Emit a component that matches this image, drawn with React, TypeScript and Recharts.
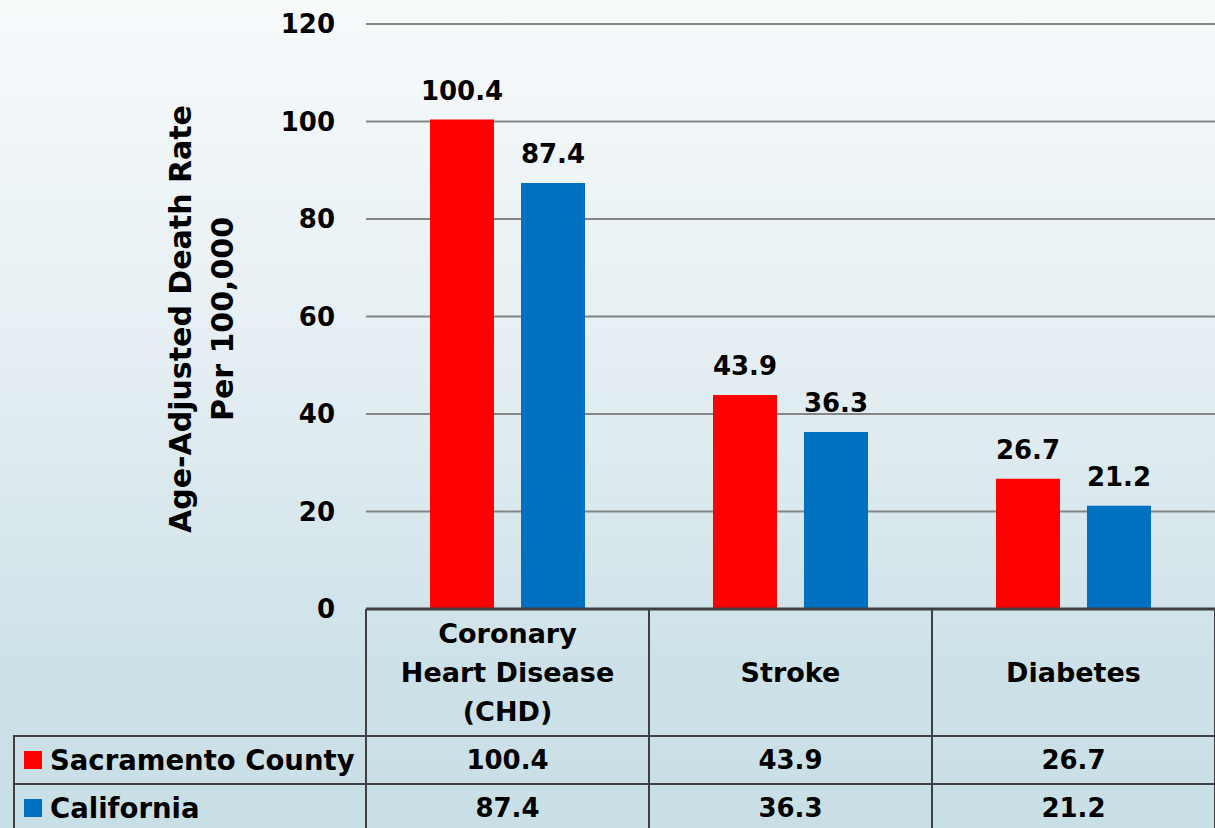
import React from "react";
import { BarChart, Bar, CartesianGrid, LabelList, ReferenceLine, XAxis, YAxis } from "recharts";

const categories = ["Coronary\nHeart Disease\n(CHD)", "Stroke", "Diabetes"];
const sacramento = [100.4, 43.9, 26.7];
const california = [87.4, 36.3, 21.2];
const seriesNames = ["Sacramento County", "California"];
const yTicks = [0, 20, 40, 60, 80, 100, 120];

const W = 1215;
const H = 828;
const PLOT_LEFT = 366;
const PLOT_TOP = 24;
const PLOT_BOTTOM = 609;
const RED = "#ff0000";
const BLUE = "#0070c0";
const LINE = "#404040";
const FONT = "'DejaVu Sans', sans-serif";

const chartData = categories.map((c, i) => ({
  category: c,
  sacramento: sacramento[i],
  california: california[i],
}));

function AxisTitle() {
  const cy = 319;
  return (
    <g fontFamily={FONT} fontWeight="bold" fontSize={30} fill="#000">
      <text x={180} y={cy} transform={`rotate(-90, 180, ${cy})`} textAnchor="middle" dominantBaseline="central">
        Age-Adjusted Death Rate
      </text>
      <text x={222} y={cy} transform={`rotate(-90, 222, ${cy})`} textAnchor="middle" dominantBaseline="central">
        Per 100,000
      </text>
    </g>
  );
}

export default function App() {
  const bandW = (W - PLOT_LEFT) / categories.length;
  const headerBottom = 736;
  const rowH = 48;
  const rows = [
    { name: seriesNames[0], color: RED, values: sacramento },
    { name: seriesNames[1], color: BLUE, values: california },
  ];

  return (
    <div
      style={{
        position: "absolute",
        top: 0,
        left: 0,
        width: W,
        height: H,
        overflow: "hidden",
        background: "linear-gradient(to bottom, #f7fafb 0%, #e4eef2 45%, #cde2e8 80%, #c8dfe5 100%)",
        fontFamily: FONT,
      }}
    >
      <BarChart
        width={W}
        height={H}
        data={chartData}
        margin={{ top: PLOT_TOP, right: 0, left: 0, bottom: H - PLOT_BOTTOM }}
        barSize={64}
        barGap={27}
      >
        <CartesianGrid vertical={false} stroke="#858585" strokeWidth={2} />
        <XAxis dataKey="category" hide height={0} />
        <YAxis
          width={PLOT_LEFT}
          domain={[0, 120]}
          ticks={yTicks}
          axisLine={false}
          tickLine={false}
          tickMargin={25}
          tick={{ fill: "#000", fontSize: 26, fontWeight: "bold", fontFamily: FONT }}
          label={{ content: () => <AxisTitle /> }}
        />
        <ReferenceLine y={0} stroke={LINE} strokeWidth={3} />
        <Bar dataKey="sacramento" name={seriesNames[0]} fill={RED} isAnimationActive={false}>
          <LabelList
            dataKey="sacramento"
            position="top"
            offset={20}
            fill="#000"
            fontSize={26}
            fontWeight="bold"
            fontFamily={FONT}
          />
        </Bar>
        <Bar dataKey="california" name={seriesNames[1]} fill={BLUE} isAnimationActive={false}>
          <LabelList
            dataKey="california"
            position="top"
            offset={20}
            fill="#000"
            fontSize={26}
            fontWeight="bold"
            fontFamily={FONT}
          />
        </Bar>
      </BarChart>

      {/* data table under the plot */}
      {categories.map((c, i) => (
        <div
          key={c}
          style={{
            position: "absolute",
            left: PLOT_LEFT + i * bandW - 1,
            top: PLOT_BOTTOM,
            width: bandW + 2,
            height: headerBottom - PLOT_BOTTOM + 1,
            boxSizing: "border-box",
            borderLeft: `2px solid ${LINE}`,
            borderRight: `2px solid ${LINE}`,
            borderBottom: `2px solid ${LINE}`,
            display: "flex",
            alignItems: "center",
            justifyContent: "center",
            textAlign: "center",
            whiteSpace: "pre-line",
            fontSize: 27,
            fontWeight: "bold",
            lineHeight: "39px",
            color: "#000",
          }}
        >
          {c}
        </div>
      ))}
      {rows.map((r, ri) => (
        <React.Fragment key={r.name}>
          <div
            style={{
              position: "absolute",
              left: 13,
              top: headerBottom + ri * rowH - 1,
              width: PLOT_LEFT - 13 + 1,
              height: rowH + 2,
              boxSizing: "border-box",
              border: `2px solid ${LINE}`,
              display: "flex",
              alignItems: "center",
              paddingLeft: 9,
              fontSize: 27.5,
              fontWeight: "bold",
              color: "#000",
              whiteSpace: "nowrap",
            }}
          >
            <span style={{ display: "inline-block", width: 18, height: 18, background: r.color, marginRight: 8 }} />
            {r.name}
          </div>
          {r.values.map((v, i) => (
            <div
              key={i}
              style={{
                position: "absolute",
                left: PLOT_LEFT + i * bandW - 1,
                top: headerBottom + ri * rowH - 1,
                width: bandW + 2,
                height: rowH + 2,
                boxSizing: "border-box",
                border: `2px solid ${LINE}`,
                display: "flex",
                alignItems: "center",
                justifyContent: "center",
                fontSize: 26,
                fontWeight: "bold",
                color: "#000",
              }}
            >
              {v.toFixed(1)}
            </div>
          ))}
        </React.Fragment>
      ))}
    </div>
  );
}
